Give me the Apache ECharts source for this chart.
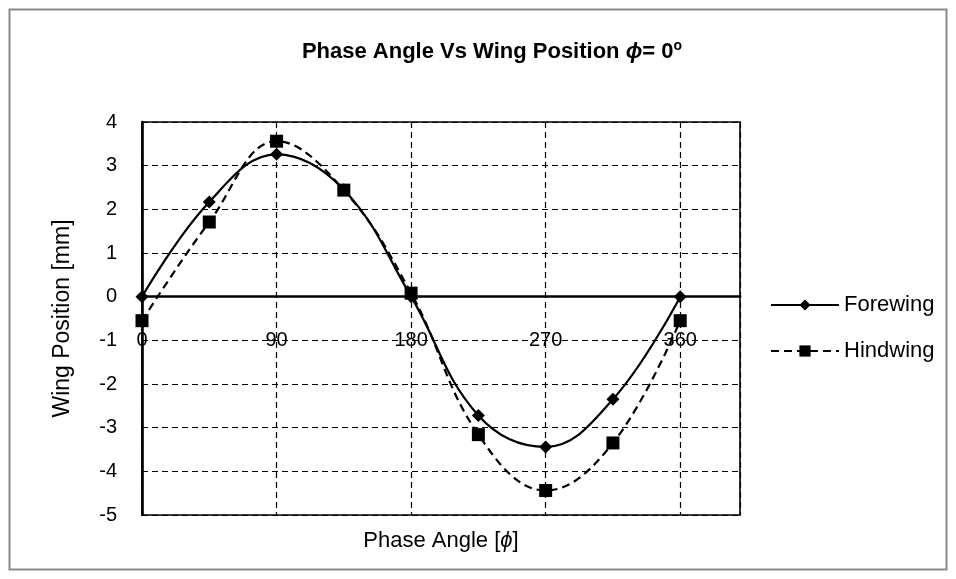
<!DOCTYPE html>
<html>
<head>
<meta charset="utf-8">
<script src="https://cdn.jsdelivr.net/npm/echarts@6/dist/echarts.min.js"></script>
<style>
  html, body { margin: 0; padding: 0; background: #fff; }
  #chart { width: 956px; height: 579px; }
</style>
</head>
<body>
<div id="chart"></div>
<script>
// Phase angle (degrees) at which the wing positions were sampled
const phaseAngles = [0, 45, 90, 135, 180, 225, 270, 315, 360];
// Wing positions in mm
const forewing = [0, 2.17, 3.26, 2.45, 0, -2.72, -3.44, -2.35, 0];
const hindwing = [-0.55, 1.71, 3.56, 2.44, 0.08, -3.16, -4.44, -3.35, -0.55];
const seriesNames = ['Forewing', 'Hindwing'];

const FONT = '"Liberation Sans", Arial, sans-serif';
const chart = echarts.init(document.getElementById('chart'), null, { renderer: 'canvas' });

const toPairs = ys => phaseAngles.map((x, i) => [x, ys[i]]);

// Plot box and y range; the x axis is lifted so it runs along y = 0
const GRID = { left: 142, right: 216, top: 122, bottom: 64 };
const Y_MIN = -5, Y_MAX = 4;
const plotHeight = 579 - GRID.top - GRID.bottom;
const zeroOffset = -plotHeight * (0 - Y_MIN) / (Y_MAX - Y_MIN);

chart.setOption({
  animation: false,
  backgroundColor: '#fff',
  graphic: [{
    type: 'rect',
    shape: { x: 9.5, y: 9.5, width: 937, height: 560 },
    style: { fill: 'none', stroke: '#8a8a8a', lineWidth: 2 },
    silent: true
  }],
  title: {
    text: 'Phase Angle Vs Wing Position {i|ϕ}= 0{s|o}',
    left: 487, top: 34, textAlign: 'center',
    textStyle: {
      fontFamily: FONT, fontSize: 22, fontWeight: 'bold', color: '#000',
      rich: {
        i: { fontFamily: FONT, fontSize: 22, fontWeight: 'bold', fontStyle: 'italic', color: '#000' },
        s: { fontFamily: FONT, fontSize: 14, fontWeight: 'bold', color: '#000', padding: [0, 0, 11, 0] }
      }
    }
  },
  grid: Object.assign({}, GRID, {
    containLabel: false,
    outerBoundsMode: 'none',
    show: true, borderColor: '#000', borderWidth: 1.6
  }),
  legend: {
    orient: 'vertical',
    left: 765, top: 289,
    itemWidth: 68, itemHeight: 14, itemGap: 24,
    data: seriesNames,
    textStyle: { fontFamily: FONT, fontSize: 22, color: '#000', padding: [0, 0, 0, 0] }
  },
  xAxis: {
    type: 'value',
    min: 0, max: 400, interval: 90,
    position: 'bottom',
    offset: zeroOffset,
    name: 'Phase Angle [{i|ϕ}]',
    nameLocation: 'middle', nameGap: 233,
    nameTextStyle: {
      fontFamily: FONT, fontSize: 22, color: '#000',
      rich: { i: { fontFamily: FONT, fontSize: 22, fontStyle: 'italic', color: '#000' } }
    },
    axisLine: { show: true, onZero: false, lineStyle: { color: '#000', width: 2.6 } },
    axisTick: { show: false },
    axisLabel: {
      margin: 34, fontFamily: FONT, fontSize: 20, color: '#000',
      formatter: v => (v > 360 ? '' : String(v))
    },
    splitLine: { show: true, lineStyle: { color: '#000', width: 1.2, type: [6, 4] } }
  },
  yAxis: {
    type: 'value',
    min: Y_MIN, max: Y_MAX, interval: 1,
    name: 'Wing Position [mm]',
    nameLocation: 'middle', nameGap: 68, nameRotate: 90,
    nameTextStyle: { fontFamily: FONT, fontSize: 23, color: '#000' },
    axisLine: { show: true, onZero: false, lineStyle: { color: '#000', width: 2.6 } },
    axisTick: { show: false },
    axisLabel: { margin: 25, fontFamily: FONT, fontSize: 20, color: '#000', formatter: v => String(v) },
    splitLine: { show: true, lineStyle: { color: '#000', width: 1.2, type: [6, 4] } }
  },
  series: [
    {
      name: seriesNames[0],
      type: 'line',
      data: toPairs(forewing),
      smooth: 0.4,
      symbol: 'diamond', symbolSize: 13,
      itemStyle: { color: '#000' },
      lineStyle: { color: '#000', width: 2.2 },
      z: 3
    },
    {
      name: seriesNames[1],
      type: 'line',
      data: toPairs(hindwing),
      smooth: 0.4,
      symbol: 'rect', symbolSize: 13,
      itemStyle: { color: '#000' },
      lineStyle: { color: '#000', width: 2.2, type: [8, 5] },
      z: 2
    }
  ]
});
</script>
</body>
</html>
